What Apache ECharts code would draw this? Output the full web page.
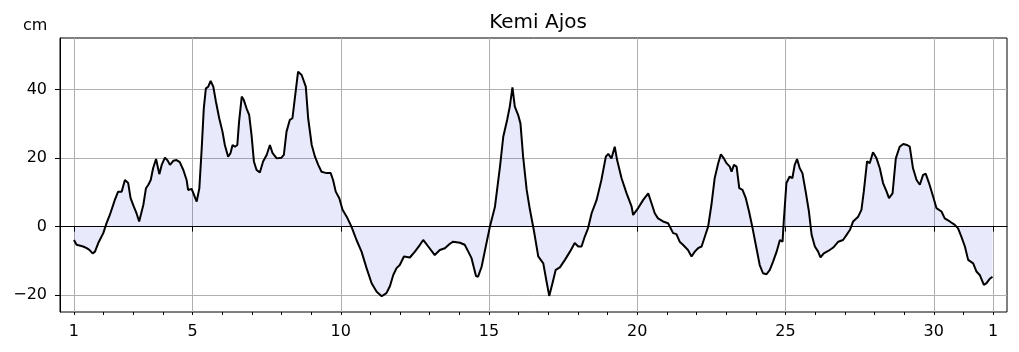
<!DOCTYPE html>
<html>
<head>
<meta charset="utf-8">
<script src="https://cdn.jsdelivr.net/npm/echarts@6/dist/echarts.min.js"></script>
<style>
  html, body { margin: 0; padding: 0; background: #fff; }
  #chart { width: 1019px; height: 352px; }
</style>
</head>
<body>
<div id="chart"></div>
<script>
// sea level, day of month (fractional) and cm
const days = [
  1.00, 1.09, 1.31, 1.43, 1.52, 1.63, 1.71, 1.82, 1.99, 2.10, 2.21, 2.38, 2.49, 2.61, 2.72, 2.78,
  2.83, 2.91, 3.02, 3.11, 3.20, 3.26, 3.34, 3.43, 3.51, 3.59, 3.67, 3.77, 3.88, 3.96, 4.07, 4.15,
  4.24, 4.35, 4.46, 4.57, 4.69, 4.80, 4.85, 4.97, 5.14, 5.23, 5.31, 5.38, 5.45, 5.53, 5.61, 5.70,
  5.79, 5.90, 6.01, 6.09, 6.20, 6.28, 6.35, 6.43, 6.51, 6.57, 6.66, 6.73, 6.82, 6.91, 6.99, 7.07,
  7.16, 7.27, 7.38, 7.50, 7.61, 7.70, 7.84, 8.00, 8.08, 8.17, 8.28, 8.37, 8.45, 8.56, 8.68, 8.73,
  8.82, 8.90, 9.02, 9.13, 9.24, 9.35, 9.52, 9.66, 9.74, 9.83, 9.95, 10.06, 10.20, 10.36, 10.53, 10.70,
  10.87, 11.04, 11.21, 11.38, 11.43, 11.54, 11.66, 11.77, 11.88, 11.99, 12.13, 12.33, 12.50, 12.67, 12.78, 12.95,
  13.17, 13.34, 13.51, 13.68, 13.79, 14.02, 14.18, 14.30, 14.41, 14.56, 14.63, 14.75, 14.89, 15.03, 15.20, 15.37,
  15.48, 15.61, 15.70, 15.79, 15.87, 15.98, 16.06, 16.15, 16.27, 16.38, 16.51, 16.66, 16.83, 16.94, 17.03, 17.14,
  17.25, 17.39, 17.56, 17.73, 17.89, 18.01, 18.12, 18.23, 18.34, 18.46, 18.63, 18.79, 18.94, 19.02, 19.13, 19.24,
  19.32, 19.47, 19.64, 19.81, 19.86, 20.03, 20.20, 20.37, 20.48, 20.59, 20.70, 20.87, 21.04, 21.21, 21.32, 21.43,
  21.54, 21.71, 21.83, 21.94, 22.05, 22.17, 22.28, 22.39, 22.50, 22.61, 22.73, 22.82, 22.92, 23.01, 23.12, 23.18,
  23.26, 23.35, 23.44, 23.55, 23.66, 23.77, 23.89, 24.02, 24.13, 24.24, 24.36, 24.47, 24.58, 24.70, 24.81, 24.90,
  24.94, 25.03, 25.14, 25.23, 25.31, 25.39, 25.48, 25.57, 25.68, 25.79, 25.88, 25.99, 26.10, 26.18, 26.29, 26.44,
  26.61, 26.78, 26.94, 27.06, 27.17, 27.28, 27.45, 27.56, 27.64, 27.75, 27.84, 27.95, 28.07, 28.18, 28.29, 28.41,
  28.49, 28.61, 28.72, 28.85, 28.97, 29.10, 29.19, 29.30, 29.42, 29.53, 29.64, 29.73, 29.84, 29.98, 30.09, 30.26,
  30.37, 30.54, 30.71, 30.82, 30.93, 31.05, 31.16, 31.33, 31.44, 31.55, 31.69, 31.78, 31.88, 31.98
]
const level = [
  -3.9, -5.3, -5.8, -6.3, -6.8, -7.8, -7.3, -4.8, -1.9, 1.0, 3.4, 7.8, 10.2, 10.2, 13.6, 14.1,
  12.7, 8.3, 5.8, 3.9, 1.5, 1.5, 6.3, 11.2, 12.2, 13.6, 17.0, 19.7, 15.3, 18.0, 20.1, 19.4,
  18.0, 19.2, 19.4, 18.8, 16.5, 13.6, 10.7, 11.0, 7.3, 11.2, 22.9, 34.5, 40.3, 40.8, 42.5, 40.8,
  36.4, 31.6, 27.7, 23.8, 20.4, 21.4, 23.8, 23.3, 23.8, 30.6, 37.9, 36.9, 34.5, 32.6, 26.7, 19.0,
  16.5, 15.8, 19.0, 20.9, 23.8, 21.4, 19.9, 20.1, 20.9, 27.7, 31.1, 31.6, 37.4, 45.2, 44.2, 44.7,
  40.8, 31.6, 23.8, 20.4, 18.0, 16.0, 15.6, 15.6, 13.6, 10.2, 8.3, 4.9, 2.9, 0.0, -3.9, -7.3,
  -12.1, -16.5, -19.0, -20.3, -20.8, -19.4, -17.3, -14.1, -12.1, -11.2, -8.7, -9.0, -7.3, -5.3, -3.9, -5.8,
  -8.3, -6.8, -6.3, -5.0, -4.4, -4.7, -5.3, -7.3, -9.2, -14.4, -14.6, -11.7, -5.8, 0.0, 5.8, 17.5,
  26.2, 31.1, 35.0, 40.6, 35.0, 32.6, 30.1, 20.4, 10.7, 4.9, -1.0, -8.7, -10.7, -16.0, -20.2, -16.5,
  -12.6, -11.9, -9.7, -7.3, -4.8, -5.8, -5.8, -2.9, -0.5, 3.9, 7.8, 13.6, 20.4, 21.2, 19.9, 23.3,
  19.4, 14.1, 9.7, 5.8, 3.4, 5.4, 7.8, 9.7, 6.8, 3.9, 2.4, 1.5, 1.0, -1.9, -2.2, -4.4,
  -5.3, -6.8, -8.7, -7.3, -6.3, -5.8, -2.9, 0.0, 6.3, 14.1, 18.5, 21.1, 19.9, 18.5, 17.5, 16.0,
  18.0, 17.5, 11.2, 10.7, 8.3, 4.4, -0.5, -6.3, -11.2, -13.6, -13.9, -12.6, -10.2, -7.3, -3.9, -4.4,
  1.5, 12.7, 14.6, 14.1, 18.0, 19.7, 17.0, 15.6, 10.2, 4.4, -2.4, -5.8, -7.3, -9.0, -7.8, -7.1,
  -6.1, -4.4, -3.9, -2.4, -1.0, 1.5, 2.9, 4.9, 10.2, 19.0, 18.5, 21.7, 19.9, 17.0, 12.7, 10.2,
  8.3, 9.7, 19.9, 23.3, 24.1, 23.8, 23.3, 17.0, 13.6, 12.2, 15.1, 15.4, 12.7, 8.7, 5.4, 4.4,
  2.4, 1.5, 0.5, -0.5, -2.9, -5.8, -9.7, -10.7, -13.1, -14.1, -17.0, -16.5, -15.3, -14.6
]
const majorTicks = [1, 5, 10, 15, 20, 25, 30, 32]
const minorTicks = [1, 2, 3, 4, 5, 6, 7, 8, 9, 10, 11, 12, 13, 14, 15, 16, 17, 18, 19, 20, 21, 22, 23, 24, 25, 26, 27, 28, 29, 30, 31, 32]
const yTicks = [-20, 0, 20, 40]

const chart = echarts.init(document.getElementById('chart'))
const font = 'DejaVu Sans'
const gridLine = { show: true, lineStyle: { color: '#b0b0b0', width: 1 } }

let option = {
  animation: false,
  textStyle: { fontFamily: font },
  title: {
    text: 'Kemi Ajos',
    left: 533,
    top: 8,
    textAlign: 'center',
    textStyle: { fontFamily: font, fontSize: 20, fontWeight: 'normal', color: '#000' },
  },
  graphic: [
    {
      type: 'text',
      left: 23,
      top: 18,
      style: { text: 'cm', font: '16px "DejaVu Sans"', fill: '#000' },
    },
  ],
  grid: {
    left: 60,
    right: 12,
    top: 38,
    bottom: 40,
    show: true,
    borderColor: '#000',
    borderWidth: 1,
    backgroundColor: 'transparent',
  },
  xAxis: [
    {
      type: 'value',
      min: 0.53,
      max: 32.47,
      axisLine: { show: true, lineStyle: { color: '#000' } },
      axisTick: { customValues: majorTicks, length: 5, lineStyle: { color: '#000' } },
      axisLabel: {
        customValues: majorTicks,
        fontSize: 16,
        color: '#000',
        margin: 12,
        formatter: function (v) {
          return v === 32 ? '1' : String(v)
        },
      },
      splitLine: gridLine,
    },
    {
      type: 'value',
      min: 0.53,
      max: 32.47,
      position: 'bottom',
      axisLine: { show: false },
      axisTick: { customValues: minorTicks, length: 3, lineStyle: { color: '#000' } },
      axisLabel: { show: false },
      splitLine: { show: false },
    },
  ],
  yAxis: {
    type: 'value',
    min: -24.9,
    max: 55,
    axisLine: { show: true, lineStyle: { color: '#000' } },
    axisTick: { customValues: yTicks, length: 5, lineStyle: { color: '#000' } },
    axisLabel: {
      customValues: yTicks,
      fontSize: 16,
      color: '#000',
      margin: 13,
      formatter: function (v) {
        return v < 0 ? '\u2212' + Math.abs(v) : String(v)
      },
    },
    splitLine: gridLine,
  },
  series: [
    {
      type: 'line',
      data: days.map((d, i) => [d, level[i]]),
      showSymbol: false,
      symbol: 'none',
      lineStyle: { color: '#000', width: 2 },
      areaStyle: { color: 'rgba(0,0,220,0.12)', origin: 0 },
      markLine: {
        silent: true,
        symbol: 'none',
        label: { show: false },
        lineStyle: { color: '#000', width: 1, type: 'solid' },
        data: [[{ coord: [1, 0] }, { coord: [32, 0] }]],
      },
    },
  ],
}
chart.setOption(option)
</script>
</body>
</html>
